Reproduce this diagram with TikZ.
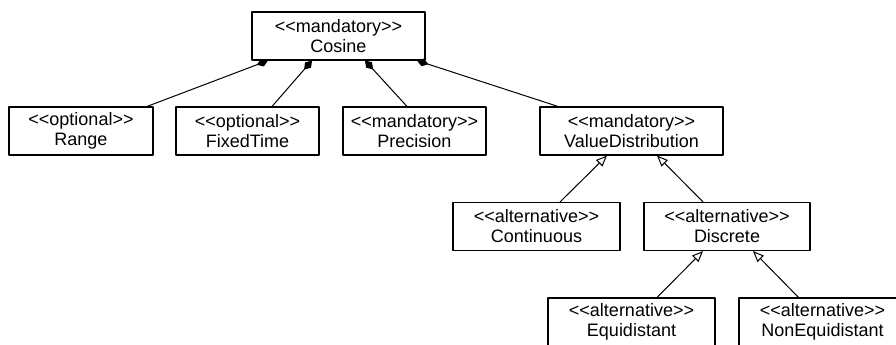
\documentclass[tikz,border=0pt]{standalone}
\usepackage{fontspec}
\setmainfont{Liberation Sans}
\usetikzlibrary{arrows.meta}
\newcommand{\stereo}[1]{<\kern0pt<#1>\kern0pt>}
\begin{document}
\begin{tikzpicture}[x=1pt,y=-1pt,line join=round,font=\fontsize{18}{20}\selectfont,
	feat/.style={draw,line width=1.1pt,align=center,minimum height=48pt,inner sep=0pt},
	comp/.style={line width=1pt,{Diamond[length=12pt,width=8pt]}-},
	gen/.style={line width=1pt,{Triangle[open,length=11pt,width=9pt,fill=white]}-}]
	\useasboundingbox (0,0) rectangle (896,345);
	% root and its parts
	\node[feat,minimum width=173pt] (cosine) at (338.5,36) {\stereo{mandatory}\\Cosine};
	\node[feat,minimum width=144pt] (range) at (81,131) {\stereo{optional}\\Range};
	\node[feat,minimum width=143pt] (fixedtime) at (247.5,131) {\stereo{optional}\\FixedTime};
	\node[feat,minimum width=143pt] (precision) at (414.5,131) {\stereo{mandatory}\\Precision};
	\node[feat,minimum width=183pt] (valuedist) at (631.5,131) {\stereo{mandatory}\\ValueDistribution};
	% alternatives
	\node[feat,minimum width=167pt] (continuous) at (536.5,226.5) {\stereo{alternative}\\Continuous};
	\node[feat,minimum width=166pt] (discrete) at (727,226.5) {\stereo{alternative}\\Discrete};
	\node[feat,minimum width=167pt] (equidistant) at (631.5,322) {\stereo{alternative}\\Equidistant};
	\node[feat,minimum width=167pt] (nonequidistant) at (822.5,322) {\stereo{alternative}\\NonEquidistant};
	\draw[comp] ([xshift=-70.5pt]cosine.south) -- ([xshift=66pt]range.north);
	\draw[comp] ([xshift=-26.5pt]cosine.south) -- ([xshift=24.5pt]fixedtime.north);
	\draw[comp] ([xshift=26.5pt]cosine.south) -- ([xshift=-7.5pt]precision.north);
	\draw[comp] ([xshift=78.5pt]cosine.south) -- ([xshift=-73.5pt]valuedist.north);
	\draw[gen] ([xshift=-24.5pt]valuedist.south) -- ([xshift=23.5pt]continuous.north);
	\draw[gen] ([xshift=25.5pt]valuedist.south) -- ([xshift=-24pt]discrete.north);
	\draw[gen] ([xshift=-24pt]discrete.south) -- ([xshift=25.5pt]equidistant.north);
	\draw[gen] ([xshift=26pt]discrete.south) -- ([xshift=-24pt]nonequidistant.north);
\end{tikzpicture}
\end{document}
